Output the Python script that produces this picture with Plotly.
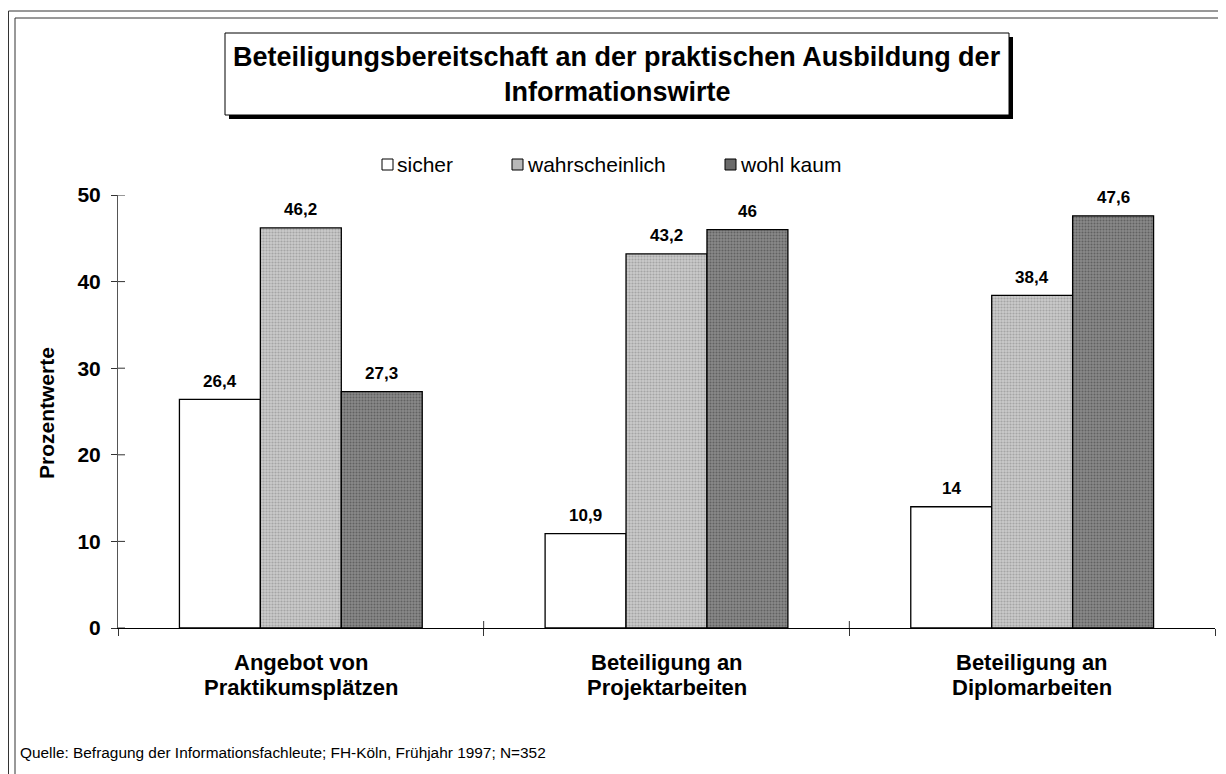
import plotly.graph_objects as go

categories = ["Angebot von<br>Praktikumsplätzen", "Beteiligung an<br>Projektarbeiten", "Beteiligung an<br>Diplomarbeiten"]
series_names = ["sicher", "wahrscheinlich", "wohl kaum"]
sicher = [26.4, 10.9, 14]
wahrscheinlich = [46.2, 43.2, 38.4]
wohl_kaum = [27.3, 46, 47.6]
y_ticks = [0, 10, 20, 30, 40, 50]
title_lines = ["Beteiligungsbereitschaft an der praktischen Ausbildung der", "Informationswirte"]
y_title = "Prozentwerte"
source_text = "Quelle: Befragung der Informationsfachleute; FH-Köln, Frühjahr 1997; N=352"

OFF = 8  # page body margin
W, H = 1216, 766
L, R, T, B = 118, 1215, 195, 628  # page coordinates of plot area
FONT = "Arial, Liberation Sans, sans-serif"

def px(x):
    return (x - L) / (R - L)

def py(y):
    return (B - y) / (B - T)

def fmt(v):
    return ("%g" % v).replace(".", ",")

styles = [
    dict(color="white", pattern=None),
    dict(color="#b8b8b8", pattern=dict(shape=".", bgcolor="#cacaca", fgcolor="#808080", size=3, solidity=0.4)),
    dict(color="#6e6e6e", pattern=dict(shape=".", bgcolor="#8a8a8a", fgcolor="#383838", size=3, solidity=0.4)),
]

fig = go.Figure()
all_series = [sicher, wahrscheinlich, wohl_kaum]
for name, vals, st in zip(series_names, all_series, styles):
    marker = dict(color=st["color"], line=dict(color="#000000", width=1.3))
    if st["pattern"]:
        marker["pattern"] = st["pattern"]
    fig.add_trace(go.Bar(name=name, x=categories, y=vals, marker=marker, showlegend=False))

bargap = 0.336
bw = (1 - bargap) / 3
annotations = []
for j, vals in enumerate(all_series):
    for i, v in enumerate(vals):
        annotations.append(dict(x=i + (j - 1) * bw, y=v, xref="x", yref="y", text="<b>%s</b>" % fmt(v),
                                xanchor="center", yanchor="middle",
                                showarrow=False, yshift=18, font=dict(family=FONT, size=17, color="black")))

# category labels (two lines each)
for i, c in enumerate(categories):
    for k, line in enumerate(c.split("<br>")):
        annotations.append(dict(x=i, y=py(662 + 25 * k), xref="x", yref="paper", text="<b>%s</b>" % line,
                                xanchor="center", yanchor="middle", showarrow=False,
                                font=dict(family=FONT, size=22, color="black")))

# title
for k, line in enumerate(title_lines):
    annotations.append(dict(x=px(617), y=py(57 + 35 * k), xref="paper", yref="paper", text="<b>%s</b>" % line,
                            xanchor="center", yanchor="middle",
                            showarrow=False, font=dict(family=FONT, size=27, color="black")))
# y title
annotations.append(dict(x=px(46), y=py(413), xref="paper", yref="paper", text="<b>%s</b>" % y_title,
                        xanchor="center", yanchor="middle",
                        textangle=-90, showarrow=False, font=dict(family=FONT, size=21, color="black")))
# source
annotations.append(dict(x=px(18), y=py(752), xref="paper", yref="paper", text=source_text,
                        xanchor="left", yanchor="middle",
                        showarrow=False, font=dict(family=FONT, size=15.4, color="black")))

# legend (manual)
legend_items = [(382, series_names[0], "white"), (512, series_names[1], "#b8b8b8"), (725, series_names[2], "#6a6a6a")]
shapes = []
for x0, name, col in legend_items:
    shapes.append(dict(type="rect", xref="paper", yref="paper", x0=px(x0), x1=px(x0 + 11), y0=py(170), y1=py(159),
                       line=dict(color="black", width=1), fillcolor=col))
    annotations.append(dict(x=px(x0 + 13), y=py(164), xref="paper", yref="paper", text=name,
                            xanchor="left", yanchor="middle",
                            showarrow=False, font=dict(family=FONT, size=21, color="black")))

# title box with shadow
shapes.append(dict(type="rect", xref="paper", yref="paper", x0=px(229), x1=px(1013), y0=py(119), y1=py(37),
                   line=dict(width=0), fillcolor="black", layer="below"))
shapes.append(dict(type="rect", xref="paper", yref="paper", x0=px(225), x1=px(1009), y0=py(115), y1=py(33),
                   line=dict(color="black", width=1), fillcolor="white", layer="below"))
# outer frames
shapes.append(dict(type="rect", xref="paper", yref="paper", x0=px(8.5), x1=px(1222.5), y0=py(800), y1=py(11),
                   line=dict(color="#333333", width=1), fillcolor="rgba(0,0,0,0)", layer="below"))
shapes.append(dict(type="line", xref="paper", yref="paper", x0=px(15), x1=px(15), y0=py(800), y1=py(18),
                   line=dict(color="#333333", width=1)))
shapes.append(dict(type="line", xref="paper", yref="paper", x0=px(15), x1=px(1222.5), y0=py(18), y1=py(18),
                   line=dict(color="#333333", width=1)))
# inner halves of crossing ticks
for k in range(1, 3):
    shapes.append(dict(type="line", xref="x", yref="paper", x0=k - 0.5, x1=k - 0.5, y0=0, y1=py(621),
                       line=dict(color="#333333", width=1)))
for t in y_ticks:
    shapes.append(dict(type="line", xref="paper", yref="y", x0=0, x1=px(125), y0=t, y1=t,
                       line=dict(color="#333333", width=1)))

fig.update_layout(
    width=W, height=H,
    margin=dict(l=L - OFF, r=W - (R - OFF), t=T - OFF, b=H - (B - OFF)),
    paper_bgcolor="white", plot_bgcolor="white",
    barmode="group", bargap=bargap, bargroupgap=0,
    annotations=annotations, shapes=shapes,
    xaxis=dict(type="category", range=[-0.5, 2.5], showline=True, linecolor="black", linewidth=1,
               ticks="outside", ticklen=7, tickcolor="#333333", tickson="boundaries",
               showgrid=False, showticklabels=False),
    yaxis=dict(range=[0, 50], tickvals=y_ticks, ticktext=["<b>%d</b>" % t for t in y_ticks],
               showline=True, linecolor="#555555", linewidth=1,
               ticks="outside", ticklen=6, tickcolor="#333333", showgrid=False, zeroline=False,
               tickfont=dict(family=FONT, size=21, color="black"), ticklabelstandoff=6),
    font=dict(family=FONT),
)

fig.write_html("out.html")
